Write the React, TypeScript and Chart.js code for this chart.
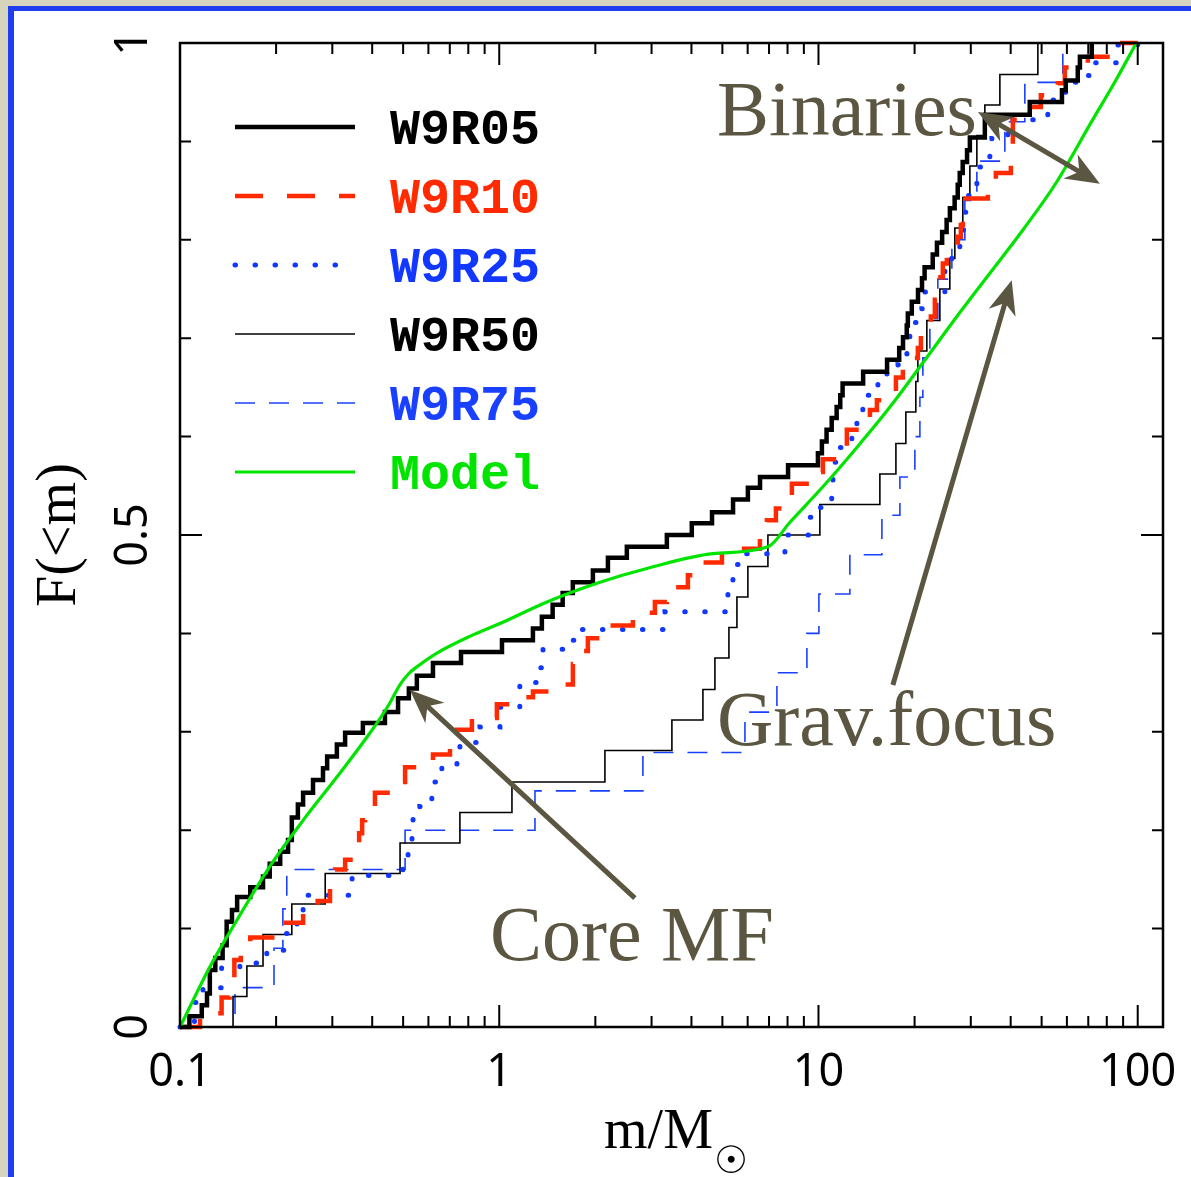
import React, { useEffect, useRef } from "react";
import { Chart, registerables } from "chart.js";

Chart.register(...registerables);

// ---------- axes ----------
const X_MIN = 0.1;
const X_MAX = 120;
const Y_MIN = 0;
const Y_MAX = 1;
const X_MAJOR = [0.1, 1, 10, 100];
const X_TICK_LABELS = ["0.1", "1", "10", "100"];
const X_MINOR = [0.2, 0.3, 0.4, 0.5, 0.6, 0.7, 0.8, 0.9, 2, 3, 4, 5, 6, 7, 8, 9, 20, 30, 40, 50, 60, 70, 80, 90];
const Y_MAJOR = [0, 0.5, 1];
const Y_TICK_LABELS = ["0", "0.5", "1"];
const Y_MINOR = [0.1, 0.2, 0.3, 0.4, 0.6, 0.7, 0.8, 0.9];
const X_TITLE = "m/M";
const X_TITLE_SUB = "\u2609";
const Y_TITLE = "F(<m)";

// ---------- series (mass in Msun, cumulative fraction) ----------
const W9R05_M = [0.1, 0.107, 0.117, 0.1215, 0.124, 0.129, 0.136, 0.14, 0.1455, 0.151, 0.166, 0.182, 0.191, 0.206, 0.218, 0.224, 0.234, 0.243, 0.261, 0.2805, 0.289, 0.31, 0.329, 0.374, 0.4385, 0.482, 0.521, 0.552, 0.62, 0.759, 1.02, 1.275, 1.36, 1.47, 1.58, 1.7, 1.965, 2.19, 2.51, 3.35, 4.01, 4.64, 5.4, 6.01, 6.56, 8.03, 9.96, 10.25, 10.6, 11.0, 11.4, 11.7, 11.9, 13.8, 16.4, 17.9, 18.4, 18.9, 19.05, 19.6, 20.5, 21.1, 21.5, 22.8, 23.5, 24.4, 25.2, 25.8, 26.7, 27.3, 27.7, 28.3, 29.2, 29.8, 33.2, 45.9, 57.9, 59.5, 64.9, 65.9, 71.8];
const W9R05_F = [0, 0.011, 0.022, 0.034, 0.058, 0.07, 0.083, 0.107, 0.119, 0.132, 0.142, 0.153, 0.166, 0.178, 0.19, 0.213, 0.226, 0.238, 0.251, 0.263, 0.275, 0.287, 0.299, 0.309, 0.32, 0.334, 0.344, 0.357, 0.37, 0.381, 0.393, 0.405, 0.417, 0.429, 0.441, 0.452, 0.464, 0.477, 0.488, 0.5, 0.512, 0.523, 0.536, 0.548, 0.559, 0.571, 0.583, 0.595, 0.607, 0.619, 0.63, 0.642, 0.654, 0.666, 0.678, 0.69, 0.701, 0.713, 0.725, 0.737, 0.749, 0.761, 0.772, 0.785, 0.797, 0.808, 0.82, 0.832, 0.843, 0.856, 0.868, 0.879, 0.891, 0.904, 0.927, 0.94, 0.952, 0.962, 0.975, 0.986, 1.0];

const W9R10_M = [0.1, 0.1155, 0.135, 0.143, 0.1455, 0.148, 0.155, 0.166, 0.201, 0.243, 0.27, 0.295, 0.306, 0.329, 0.348, 0.364, 0.372, 0.38, 0.408, 0.455, 0.507, 0.62, 0.701, 0.737, 0.821, 0.983, 1.16, 1.275, 1.549, 1.701, 1.789, 1.895, 2.113, 2.622, 3.073, 3.351, 3.899, 4.193, 4.984, 6.555, 6.894, 7.356, 7.792, 8.254, 9.743, 10.32, 11.76, 12.27, 13.68, 14.49, 15.24, 16.5, 17.48, 18.38, 19.9, 20.48, 20.93, 22.49, 23.15, 23.65, 24.52, 25.24, 27.33, 27.92, 28.32, 33.93, 35.94, 40.05, 40.63, 44.3, 49.72, 56.21, 59.1, 69.79, 86.01, 100];
const W9R10_F = [0, 0.014, 0.03, 0.038, 0.05, 0.068, 0.08, 0.091, 0.106, 0.119, 0.128, 0.146, 0.16, 0.17, 0.183, 0.197, 0.21, 0.224, 0.238, 0.249, 0.264, 0.277, 0.29, 0.302, 0.314, 0.328, 0.335, 0.341, 0.348, 0.369, 0.382, 0.395, 0.408, 0.421, 0.432, 0.447, 0.459, 0.472, 0.486, 0.498, 0.515, 0.527, 0.539, 0.552, 0.564, 0.577, 0.59, 0.607, 0.614, 0.627, 0.637, 0.645, 0.66, 0.673, 0.68, 0.69, 0.71, 0.722, 0.739, 0.762, 0.776, 0.79, 0.803, 0.815, 0.842, 0.853, 0.868, 0.88, 0.922, 0.935, 0.947, 0.959, 0.975, 0.986, 1.0, 1.0];

const W9R25_M = [0.1, 0.111, 0.118, 0.135, 0.154, 0.187, 0.213, 0.2325, 0.243, 0.248, 0.346, 0.499, 0.518, 0.533, 0.537, 0.564, 0.615, 0.629, 0.661, 0.737, 0.753, 0.87, 1.005, 1.16, 1.341, 1.371, 1.689, 1.764, 3.304, 5.204, 5.395, 5.553, 5.757, 7.849, 9.398, 10.1, 11.0, 11.1, 11.26, 11.67, 12.72, 13.19, 13.77, 14.28, 15.35, 16.38, 17.74, 18.92, 19.33, 20.04, 21.08, 21.54, 24.88, 26.17, 27.72, 28.32, 28.74, 29.37, 31.34, 34.42, 34.92, 39.19, 40.63, 52.28, 59.1, 63.53, 69.79, 71.8, 86.65, 100];
const W9R25_F = [0, 0.025, 0.04, 0.06, 0.065, 0.078, 0.095, 0.107, 0.12, 0.134, 0.154, 0.165, 0.177, 0.192, 0.212, 0.224, 0.233, 0.249, 0.263, 0.27, 0.289, 0.305, 0.325, 0.35, 0.365, 0.384, 0.393, 0.404, 0.422, 0.44, 0.458, 0.47, 0.481, 0.5, 0.518, 0.528, 0.539, 0.558, 0.574, 0.589, 0.6, 0.615, 0.629, 0.642, 0.654, 0.666, 0.673, 0.686, 0.703, 0.716, 0.73, 0.747, 0.77, 0.785, 0.795, 0.81, 0.828, 0.845, 0.874, 0.886, 0.903, 0.908, 0.922, 0.942, 0.95, 0.96, 0.967, 0.98, 0.998, 1.0];

const W9R50_M = [0.1, 0.1466, 0.162, 0.182, 0.224, 0.285, 0.489, 0.753, 1.096, 2.143, 3.474, 4.345, 4.738, 5.242, 5.553, 6.01, 6.944, 10.1, 15.57, 17.48, 18.78, 20.18, 20.48, 21.85, 24.0, 25.79, 26.74, 28.32, 29.8, 31.34, 33.2, 37.0, 48.66];
const W9R50_F = [0, 0.031, 0.062, 0.094, 0.125, 0.156, 0.187, 0.218, 0.249, 0.281, 0.312, 0.343, 0.375, 0.406, 0.437, 0.468, 0.5, 0.531, 0.562, 0.593, 0.625, 0.656, 0.687, 0.718, 0.75, 0.781, 0.812, 0.843, 0.875, 0.906, 0.937, 0.968, 1.0];

const W9R75_M = [0.1, 0.1487, 0.197, 0.21, 0.216, 0.507, 1.294, 2.818, 5.883, 7.409, 9.199, 10.03, 12.54, 15.8, 17.99, 20.04, 20.78, 21.23, 22.33, 23.65, 26.17, 28.74, 31.34, 38.35, 44.3, 58.25];
const W9R75_F = [0, 0.04, 0.08, 0.12, 0.16, 0.2, 0.24, 0.279, 0.32, 0.36, 0.4, 0.44, 0.48, 0.52, 0.559, 0.6, 0.64, 0.68, 0.72, 0.76, 0.8, 0.84, 0.88, 0.92, 0.96, 1.0];

const MODEL_M = [0.1, 0.124, 0.151, 0.191, 0.243, 0.31, 0.394, 0.45, 0.489, 0.52, 0.552, 0.638, 0.809, 1.005, 1.411, 2.068, 2.901, 4.671, 6.944, 8.14, 10.32, 13.19, 16.74, 21.23, 27.13, 34.42, 43.67, 55.8, 70.79, 86.01, 99];
const MODEL_F = [0, 0.061, 0.109, 0.163, 0.21, 0.254, 0.299, 0.327, 0.348, 0.359, 0.366, 0.38, 0.397, 0.41, 0.432, 0.452, 0.466, 0.481, 0.488, 0.513, 0.549, 0.589, 0.63, 0.675, 0.722, 0.766, 0.81, 0.859, 0.917, 0.964, 1.0];

const SERIES_LABELS = ["W9R05", "W9R10", "W9R25", "W9R50", "W9R75", "Model"];
const SERIES_COLORS = ["#000000", "#ff2a00", "#1238ff", "#000000", "#1a40ff", "#00e400"];

// ---------- annotations (data coordinates) ----------
const NOTE_TEXTS = ["Binaries", "Grav.focus", "Core MF"];
const NOTE_M = [4.81, 4.81, 0.935];
const NOTE_F = [0.9065, 0.2866, 0.068];
const ARROW_FROM_M = [31.6, 17.1, 2.66];
const ARROW_FROM_F = [0.93, 0.3476, 0.131];
const ARROW_TO_M = [76.1, 40.3, 0.525];
const ARROW_TO_F = [0.857, 0.759, 0.3425];
const ARROW_DOUBLE = [true, false, false];
const NOTE_COLOR = "#5b5641";

const toPoints = (m: number[], f: number[]) =>
  m.slice(0, Math.min(m.length, f.length)).map((v, i) => ({ x: v, y: f[i] }));

function arrowHead(ctx: CanvasRenderingContext2D, tx: number, ty: number, fx: number, fy: number) {
  const ang = Math.atan2(ty - fy, tx - fx);
  const len = 34;
  const half = 14;
  ctx.save();
  ctx.translate(tx, ty);
  ctx.rotate(ang);
  ctx.beginPath();
  ctx.moveTo(0, 0);
  ctx.lineTo(-len, -half);
  ctx.lineTo(-len * 0.7, 0);
  ctx.lineTo(-len, half);
  ctx.closePath();
  ctx.fill();
  ctx.restore();
}

const decorPlugin = {
  id: "decor",
  afterDatasetsDraw(chart: any) {
    const { ctx, chartArea: a, scales } = chart;
    const xs = scales.x;
    const ys = scales.y;
    ctx.save();
    // frame
    ctx.strokeStyle = "#000";
    ctx.lineWidth = 2.5;
    ctx.strokeRect(a.left, a.top, a.right - a.left, a.bottom - a.top);
    // ticks
    ctx.lineWidth = 2;
    ctx.beginPath();
    const xt = (vals: number[], len: number) => {
      vals.forEach((v) => {
        const p = xs.getPixelForValue(v);
        ctx.moveTo(p, a.bottom);
        ctx.lineTo(p, a.bottom - len);
        ctx.moveTo(p, a.top);
        ctx.lineTo(p, a.top + len);
      });
    };
    const yt = (vals: number[], len: number) => {
      vals.forEach((v) => {
        const p = ys.getPixelForValue(v);
        ctx.moveTo(a.left, p);
        ctx.lineTo(a.left + len, p);
        ctx.moveTo(a.right, p);
        ctx.lineTo(a.right - len, p);
      });
    };
    xt(X_MINOR, 11);
    xt(X_MAJOR, 22);
    yt(Y_MINOR, 11);
    yt(Y_MAJOR, 22);
    ctx.stroke();

    // tick labels
    ctx.fillStyle = "#000";
    ctx.font = '45px "Noto Sans"';
    ctx.textAlign = "center";
    ctx.textBaseline = "alphabetic";
    X_MAJOR.forEach((v, i) => {
      ctx.fillText(X_TICK_LABELS[i], xs.getPixelForValue(v), a.bottom + 59);
    });
    Y_MAJOR.forEach((v, i) => {
      ctx.save();
      ctx.translate(a.left - 33, ys.getPixelForValue(v));
      ctx.rotate(-Math.PI / 2);
      ctx.fillText(Y_TICK_LABELS[i], 0, 0);
      ctx.restore();
    });

    // axis titles
    ctx.font = '56px "Liberation Serif"';
    ctx.save();
    ctx.translate(a.left - 105, (a.top + a.bottom) / 2);
    ctx.rotate(-Math.PI / 2);
    ctx.textAlign = "center";
    ctx.fillText(Y_TITLE, 0, 0);
    ctx.restore();

    const mainFont = '56px "Liberation Serif"';
    const subFont = '38px "DejaVu Sans"';
    ctx.font = mainFont;
    const w1 = ctx.measureText(X_TITLE).width;
    ctx.font = subFont;
    const w2 = ctx.measureText(X_TITLE_SUB).width;
    const cx = (a.left + a.right) / 2 + 4;
    const x0 = cx - (w1 + w2) / 2;
    ctx.textAlign = "left";
    ctx.font = mainFont;
    ctx.fillText(X_TITLE, x0, a.bottom + 121);
    ctx.font = subFont;
    ctx.fillText(X_TITLE_SUB, x0 + w1 + 1, a.bottom + 146);

    // legend
    const ds = chart.data.datasets;
    ds.forEach((d: any, i: number) => {
      const yy = a.top + 84 + i * 69;
      ctx.save();
      ctx.strokeStyle = d.borderColor;
      ctx.lineWidth = d.borderWidth;
      ctx.lineCap = d.borderCapStyle || "butt";
      ctx.setLineDash(d.borderDash || []);
      ctx.beginPath();
      ctx.moveTo(a.left + 55, yy);
      ctx.lineTo(a.left + 175, yy);
      ctx.stroke();
      ctx.restore();
      ctx.fillStyle = d.borderColor;
      ctx.font = 'bold 50px "Liberation Mono"';
      ctx.textAlign = "left";
      ctx.fillText(d.label, a.left + 210, yy + 17);
    });

    // annotations
    ctx.fillStyle = NOTE_COLOR;
    ctx.strokeStyle = NOTE_COLOR;
    ctx.font = '78px "Liberation Serif"';
    ctx.textAlign = "left";
    NOTE_TEXTS.forEach((t, i) => {
      ctx.fillText(t, xs.getPixelForValue(NOTE_M[i]), ys.getPixelForValue(NOTE_F[i]));
    });
    ctx.lineWidth = 5;
    ctx.lineCap = "butt";
    ARROW_FROM_M.forEach((_, i) => {
      const fx = xs.getPixelForValue(ARROW_FROM_M[i]);
      const fy = ys.getPixelForValue(ARROW_FROM_F[i]);
      const tx = xs.getPixelForValue(ARROW_TO_M[i]);
      const ty = ys.getPixelForValue(ARROW_TO_F[i]);
      const L = Math.hypot(tx - fx, ty - fy);
      const ux = (tx - fx) / L;
      const uy = (ty - fy) / L;
      const s = ARROW_DOUBLE[i] ? 20 : 0;
      ctx.beginPath();
      ctx.moveTo(fx + ux * s, fy + uy * s);
      ctx.lineTo(tx - ux * 20, ty - uy * 20);
      ctx.stroke();
      arrowHead(ctx, tx, ty, fx, fy);
      if (ARROW_DOUBLE[i]) arrowHead(ctx, fx, fy, tx, ty);
    });
    ctx.restore();
  },
};

export default function App() {
  const ref = useRef<HTMLCanvasElement>(null);
  useEffect(() => {
    const common = { pointRadius: 0, fill: false, clip: false as any, tension: 0 };
    const chart = new Chart(ref.current as HTMLCanvasElement, {
      type: "line",
      data: {
        datasets: [
          { ...common, label: SERIES_LABELS[0], data: toPoints(W9R05_M, W9R05_F), borderColor: SERIES_COLORS[0], borderWidth: 4.5, stepped: true, order: 1, borderJoinStyle: "miter" },
          { ...common, label: SERIES_LABELS[1], data: toPoints(W9R10_M, W9R10_F), borderColor: SERIES_COLORS[1], borderWidth: 4.5, borderDash: [28, 24], stepped: true, order: 2 },
          { ...common, label: SERIES_LABELS[2], data: toPoints(W9R25_M, W9R25_F), borderColor: SERIES_COLORS[2], borderWidth: 5, borderDash: [0.5, 19.5], borderCapStyle: "round", stepped: true, order: 3 },
          { ...common, label: SERIES_LABELS[3], data: toPoints(W9R50_M, W9R50_F), borderColor: SERIES_COLORS[3], borderWidth: 1.6, stepped: true, order: 4 },
          { ...common, label: SERIES_LABELS[4], data: toPoints(W9R75_M, W9R75_F), borderColor: SERIES_COLORS[4], borderWidth: 1.6, borderDash: [20, 14], stepped: true, order: 5 },
          { ...common, label: SERIES_LABELS[5], data: toPoints(MODEL_M, MODEL_F), borderColor: SERIES_COLORS[5], borderWidth: 3.2, cubicInterpolationMode: "monotone", order: 0 },
        ] as any,
      },
      options: {
        responsive: false,
        animation: false,
        devicePixelRatio: 1,
        layout: { padding: { left: 180, top: 43, right: 28, bottom: 150 } },
        scales: {
          x: { type: "logarithmic", min: X_MIN, max: X_MAX, display: false },
          y: { type: "linear", min: Y_MIN, max: Y_MAX, display: false },
        },
        plugins: { legend: { display: false }, tooltip: { enabled: false } },
      },
      plugins: [decorPlugin],
    } as any);
    return () => chart.destroy();
  }, []);
  return (
    <div style={{ position: "fixed", left: 0, top: 0, width: 1191, height: 1177, background: "#d6d4bc", overflow: "hidden" }}>
      <div style={{ position: "absolute", left: 8, top: 6, right: 0, bottom: 0, background: "#ffffff", borderTop: "5px solid #1f3ef2", borderLeft: "6px solid #1f3ef2" }} />
      <canvas ref={ref} width={1191} height={1177} style={{ position: "absolute", left: 0, top: 0, width: 1191, height: 1177 }} />
    </div>
  );
}
